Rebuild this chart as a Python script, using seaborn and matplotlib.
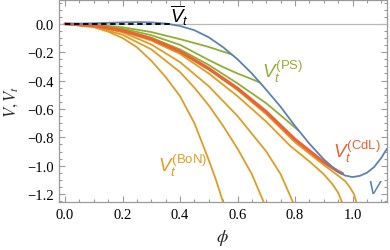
import matplotlib
matplotlib.use("Agg")
import matplotlib.pyplot as plt
import seaborn as sns

# potential V (blue)
phi_V = [0.0, 0.1, 0.2, 0.25, 0.3, 0.35, 0.4, 0.45, 0.5, 0.55, 0.6, 0.65, 0.7, 0.75,
         0.8, 0.85, 0.9, 0.95, 0.975, 1.0, 1.025, 1.05, 1.075, 1.1, 1.12]
V = [0.0, 0.004, 0.010, 0.012, 0.010, 0.002, -0.015, -0.045, -0.095, -0.165, -0.25, -0.35,
     -0.465, -0.585, -0.72, -0.845, -0.955, -1.045, -1.07, -1.08, -1.072, -1.05, -1.01,
     -0.945, -0.88]

# V_t bar (dashed)
phi_bar = [0.0, 0.365]
V_bar = [0.0, 0.0]

# CdL tunneling potential (red)
phi_cdl = [0.0, 0.1, 0.2, 0.3, 0.4, 0.5, 0.6, 0.7, 0.8, 0.85, 0.9, 0.93, 0.95, 0.965]
V_cdl = [0.0, -0.012, -0.047, -0.105, -0.195, -0.315, -0.455, -0.62, -0.815, -0.895,
         -0.975, -1.015, -1.04, -1.055]

# PS curves (green)
phi_ps1 = [0.0, 0.1, 0.2, 0.3, 0.4, 0.5, 0.58]
V_ps1 = [0.0, -0.006, -0.024, -0.058, -0.108, -0.163, -0.216]
phi_ps2 = [0.0, 0.1, 0.2, 0.3, 0.4, 0.5, 0.55, 0.6, 0.65, 0.678]
V_ps2 = [0.0, -0.009, -0.034, -0.08, -0.148, -0.255, -0.305, -0.35, -0.39, -0.414]
phi_ps3 = [0.0, 0.1, 0.2, 0.3, 0.4, 0.5, 0.6, 0.7, 0.75, 0.812]
V_ps3 = [0.0, -0.011, -0.044, -0.098, -0.18, -0.29, -0.42, -0.56, -0.645, -0.752]

# BoN curves (orange)
phi_bon1 = [0.0, 0.1, 0.15, 0.2, 0.25, 0.3, 0.35, 0.4, 0.45, 0.5, 0.525, 0.555]
V_bon1 = [0.0, -0.024, -0.055, -0.1, -0.165, -0.26, -0.375, -0.51, -0.7, -0.96, -1.1, -1.29]
phi_bon2 = [0.0, 0.1, 0.2, 0.3, 0.4, 0.45, 0.5, 0.55, 0.6, 0.65, 0.7]
V_bon2 = [0.0, -0.019, -0.077, -0.18, -0.34, -0.45, -0.575, -0.72, -0.88, -1.06, -1.3]
phi_bon3 = [0.0, 0.1, 0.2, 0.3, 0.4, 0.5, 0.6, 0.7, 0.75, 0.8]
V_bon3 = [0.0, -0.014, -0.06, -0.145, -0.27, -0.44, -0.65, -0.9, -1.06, -1.29]
phi_bon4 = [0.0, 0.1, 0.2, 0.3, 0.4, 0.5, 0.6, 0.7, 0.783, 0.85, 0.9, 0.93, 0.95, 0.97]
V_bon4 = [0.0, -0.013, -0.052, -0.118, -0.212, -0.35, -0.51, -0.69, -0.86, -0.97, -1.06,
          -1.13, -1.19, -1.29]
phi_bon5 = [0.0, 0.1, 0.2, 0.3, 0.4, 0.5, 0.6, 0.7, 0.8, 0.85, 0.9, 0.95, 0.975, 0.99,
            1.005, 1.02]
V_bon5 = [0.0, -0.012, -0.048, -0.108, -0.2, -0.323, -0.467, -0.637, -0.835, -0.915,
          -0.995, -1.07, -1.11, -1.15, -1.2, -1.3]

xticks = [0.0, 0.2, 0.4, 0.6, 0.8, 1.0]
xtick_labels = ["0.0", "0.2", "0.4", "0.6", "0.8", "1.0"]
yticks = [0.0, -0.2, -0.4, -0.6, -0.8, -1.0, -1.2]
ytick_labels = ["0.0", "\u22120.2", "\u22120.4", "\u22120.6", "\u22120.8", "\u22121.0", "\u22121.2"]

blue = "#5E81B5"
orange = "#E19C24"
green = "#8FB032"
red = "#EB6235"
frame = "#9a9a9a"

sns.set_style("ticks")
plt.rcParams["font.family"] = ["Liberation Serif", "DejaVu Serif"]
plt.rcParams["mathtext.fontset"] = "custom"
plt.rcParams["mathtext.it"] = "Liberation Sans:italic"
plt.rcParams["mathtext.rm"] = "Liberation Sans"
plt.rcParams["mathtext.bf"] = "Liberation Sans:bold"

fig = plt.figure(figsize=(3.9, 2.51), dpi=100)
ax = fig.add_axes([59 / 390, 1 - 203 / 251, 328 / 390, 202 / 251])

ax.axhline(0, color="#b8b8b8", lw=0.9, zorder=1)

for p, v in [(phi_bon1, V_bon1), (phi_bon2, V_bon2), (phi_bon3, V_bon3),
             (phi_bon4, V_bon4), (phi_bon5, V_bon5)]:
    sns.lineplot(x=p, y=v, ax=ax, color=orange, lw=1.3, sort=False, estimator=None)
for p, v in [(phi_ps1, V_ps1), (phi_ps2, V_ps2), (phi_ps3, V_ps3)]:
    sns.lineplot(x=p, y=v, ax=ax, color=green, lw=1.3, sort=False, estimator=None)
sns.lineplot(x=phi_cdl, y=V_cdl, ax=ax, color=red, lw=2.3, sort=False, estimator=None)
sns.lineplot(x=phi_V, y=V, ax=ax, color=blue, lw=1.3, sort=False, estimator=None)
sns.lineplot(x=phi_bar, y=V_bar, ax=ax, color="black", lw=1.3, linestyle=(0, (3, 2)),
             sort=False, estimator=None)

ax.set_xlim(-0.021, 1.12)
ax.set_ylim(-1.256, 0.168)

# curve labels
ax.text(0.365, 0.014, r"$\overline{V}_t$", fontsize=13.5, color="black", ha="left", va="baseline")
ax.text(0.685, -0.372, r"$V_t^{\rm (PS)}$", fontsize=13.5, color=green, ha="left", va="baseline")
ax.text(0.932, -0.94, r"$V_t^{\rm (CdL)}$", fontsize=13.5, color=red, ha="left", va="baseline")
ax.text(0.323, -1.04, r"$V_t^{\rm (BoN)}$", fontsize=13.5, color=orange, ha="left", va="baseline")
ax.text(1.05, -1.19, r"$V$", fontsize=13.5, color=blue, ha="left", va="baseline")

ax.set_xticks(xticks)
ax.set_xticklabels(xtick_labels)
ax.set_yticks(yticks)
ax.set_yticklabels(ytick_labels)
ax.xaxis.set_minor_locator(matplotlib.ticker.MultipleLocator(0.05))
ax.yaxis.set_minor_locator(matplotlib.ticker.MultipleLocator(0.05))
ax.tick_params(which="both", direction="in", top=True, right=True, color=frame,
               labelsize=10.5, labelcolor="black", width=0.8)
ax.tick_params(which="major", length=4, pad=4)
ax.tick_params(which="minor", length=2)
for s in ax.spines.values():
    s.set_color(frame)
    s.set_linewidth(0.9)

ax.set_xlabel(r"$\phi$", fontsize=13, math_fontfamily="stix")
ax.set_ylabel(r"$V,V_t$", fontsize=12, math_fontfamily="stix")
ax.xaxis.set_label_coords(0.497, -0.125)
ax.yaxis.set_label_coords(-0.12, 0.5)

fig.savefig("out.png", dpi=100)
